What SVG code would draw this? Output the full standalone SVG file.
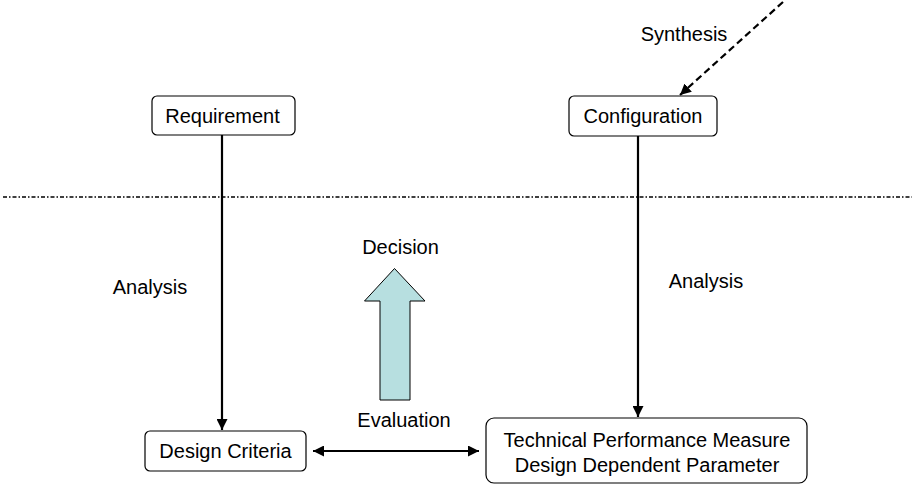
<svg xmlns="http://www.w3.org/2000/svg" width="912" height="487" viewBox="0 0 912 487">
<style>
.box{fill:#fff;stroke:#000;stroke-width:1.2}
.t{font-family:"Liberation Sans",Arial,sans-serif;font-size:20px;fill:#000;text-anchor:middle}
.c{stroke:#000;stroke-width:2.2;fill:none}
</style>
<defs>
<marker id="ah" viewBox="0 0 10 10" refX="10" refY="5" markerWidth="5" markerHeight="5" orient="auto-start-reverse" markerUnits="strokeWidth">
<path d="M0,0 L10,5 L0,10 Z" fill="#000"/>
</marker>
</defs>
<rect width="912" height="487" fill="#fff"/>
<line x1="3" y1="197" x2="912" y2="197" stroke="#000" stroke-width="1.5" stroke-dasharray="4,2,1.5,2"/>
<g id="connectors">
<line class="c" x1="222" y1="135" x2="222" y2="430" marker-end="url(#ah)"/>
<line class="c" x1="638" y1="136" x2="638" y2="417" marker-end="url(#ah)"/>
<line class="c" x1="313" y1="451" x2="479" y2="451" marker-start="url(#ah)" marker-end="url(#ah)"/>
<line class="c" x1="783" y1="2" x2="680" y2="95" stroke-dasharray="7,4" marker-end="url(#ah)"/>
<text class="t" x="684" y="41">Synthesis</text>
<text class="t" x="150" y="294">Analysis</text>
<text class="t" x="706" y="288">Analysis</text>
<text class="t" x="404" y="427">Evaluation</text>
</g>
<g id="decision">
<path d="M394.5,268.5 L425,301 L410,301 L410,400 L380,400 L380,301 L364.5,301 Z" fill="#b7dfe0" stroke="#000" stroke-width="1"/>
<text class="t" x="400.5" y="254">Decision</text>
</g>
<g id="requirement">
<rect class="box" x="152" y="96" width="143" height="39" rx="5"/>
<text class="t" x="222.5" y="123">Requirement</text>
</g>
<g id="configuration">
<rect class="box" x="569" y="96" width="148" height="40" rx="5"/>
<text class="t" x="643" y="123">Configuration</text>
</g>
<g id="design-criteria">
<rect class="box" x="145" y="431" width="161" height="40" rx="5"/>
<text class="t" x="225.5" y="458">Design Criteria</text>
</g>
<g id="tpm">
<rect class="box" x="486" y="418" width="321" height="65" rx="8"/>
<text class="t" x="647" y="447">Technical Performance Measure</text>
<text class="t" x="647" y="472">Design Dependent Parameter</text>
</g>
</svg>
